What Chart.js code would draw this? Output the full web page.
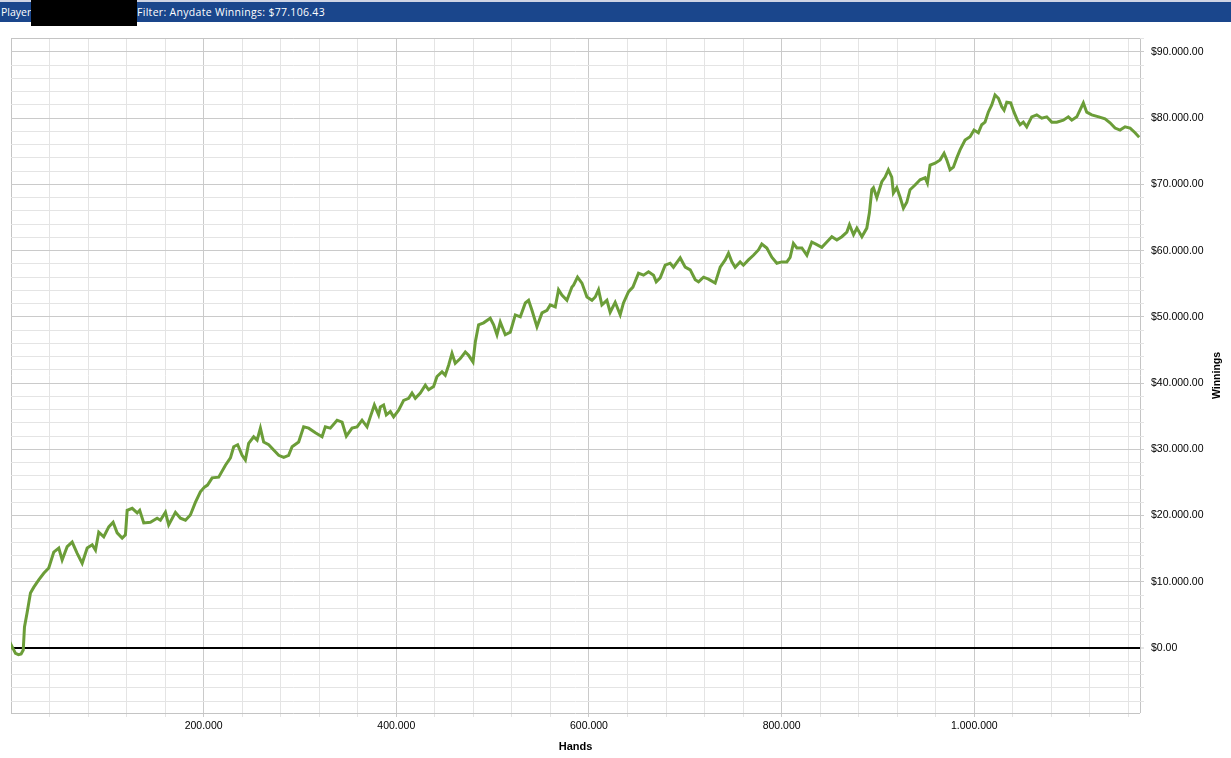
<!DOCTYPE html>
<html><head><meta charset="utf-8">
<script src="https://cdn.jsdelivr.net/npm/chart.js@4.4.1/dist/chart.umd.min.js"></script>
<style>
html,body{margin:0;padding:0;background:#fff;width:1231px;height:758px;overflow:hidden;}
#wrap{position:absolute;left:0;top:0;width:1231px;height:758px;}
#strip{position:absolute;left:0;top:0;width:1231px;height:2px;background:#cfd4e4;z-index:2;}
#bar{position:absolute;left:0;top:2px;width:1231px;height:20px;background:#1a468c;z-index:2;}
.ht{position:absolute;top:6px;line-height:12px;color:#fff;font-family:"Open Sans",sans-serif;font-size:10.5px;white-space:nowrap;z-index:3;}
#redact{position:absolute;left:31px;top:0;width:106px;height:26px;background:#000;z-index:4;}
</style></head>
<body>
<div id="strip"></div><div id="bar"></div>
<span class="ht" style="left:1px">Player</span>
<div id="redact"></div>
<span class="ht" style="left:137px;letter-spacing:0.3px">Filter: Anydate Winnings: $77.106.43</span>
<div id="wrap"><canvas id="c" width="1231" height="758"></canvas></div>
<script>
const hands = [0,1000,4700,7800,10500,12700,14000,16800,20200,23700,28800,34000,39200,44400,49600,53100,58300,63500,68700,73900,79100,84300,87700,91100,96300,101500,106000,110200,115400,118800,120600,125800,131000,133600,137800,144700,151700,155100,160300,163700,170700,175900,181100,186200,191400,196600,200800,204000,208800,215600,222600,227800,231200,235300,239900,243300,246700,251900,255500,258900,262300,267500,272700,277900,283100,288200,291800,298600,303800,309000,316000,322900,326300,331500,338500,343700,348100,354000,359200,364400,369600,373000,377200,381600,383400,386800,389600,393800,397200,402400,407600,412800,416300,419700,424900,430100,433500,438700,442200,447400,450800,454300,457800,461200,466400,471600,475000,479600,482000,485400,490600,497500,501000,504500,507900,513100,518300,523500,528700,533900,537300,540800,546000,551200,556400,559800,565000,568400,571900,577100,582300,584000,588100,592700,597900,603100,606500,609900,613400,618600,622000,627200,632400,635800,641100,645600,651400,656600,661800,667000,669800,673900,679100,684300,687700,694700,699900,705100,710300,713700,718900,724000,731000,736200,741400,744800,748300,751700,756900,760300,765500,770700,775900,779400,784600,789800,795000,800200,805400,808800,812200,815800,821000,826200,831300,836500,841700,846900,852100,857300,862500,867700,870400,874600,878100,883300,888400,891100,893600,895300,898800,904000,907400,910800,914300,916000,919500,922900,926400,929900,933300,938500,943700,948900,951300,954100,959300,964500,968600,971400,974800,978300,981800,985200,990400,995600,999700,1004200,1007700,1011100,1014500,1018100,1021500,1025000,1028500,1030900,1033700,1037800,1041200,1044700,1047500,1050900,1054400,1059600,1064800,1070000,1075200,1080400,1085600,1092400,1097600,1101200,1106400,1109700,1113200,1116700,1121900,1129200,1135700,1140900,1146100,1151300,1156500,1161700,1166900,1171200];
const winnings = [0,250,-800,-1000,-900,-300,3200,5400,8300,9200,10300,11300,12100,14500,15100,13300,15300,16000,14300,12800,15100,15600,14800,17500,16800,18300,19000,17400,16600,17100,20800,21100,20400,20800,18900,19000,19600,19300,20500,18600,20500,19600,19300,20100,22000,23600,24300,24600,25700,25800,27600,28700,30400,30700,29100,28400,30900,31900,31400,33200,31100,30700,29900,29100,28800,29100,30400,31100,33400,33200,32500,31900,33400,33200,34400,34100,32000,33200,33400,34400,33400,34900,36700,35200,36400,36700,35200,35700,34900,35900,37400,37700,38500,37700,38500,39700,39000,39500,41000,41700,41200,42700,44500,43000,43700,44700,44200,43200,46200,48800,49100,49800,48800,47300,49200,47300,47700,50300,50000,52100,52500,51000,48500,50600,51000,51800,51500,54100,53300,52500,54500,54800,56000,55100,53000,52500,53000,54100,51800,52500,50700,52200,50300,52100,53800,54500,56600,56300,56800,56300,55300,55900,57800,58100,57500,58900,57500,57100,55600,55300,56000,55700,55100,57500,58600,59600,58300,57500,58300,57800,58600,59300,60100,61000,60400,59000,58100,58300,58300,59000,61100,60400,60400,59300,61300,60900,60500,61300,62100,61600,62100,62800,63900,62400,63400,62100,63400,65700,69200,69500,68000,70400,71100,72200,71100,68700,69500,68100,66400,67300,69200,69900,70700,71000,70200,72900,73200,73700,74700,73700,72200,72600,74000,75200,76700,77200,78200,77800,79000,79400,80900,82000,83500,83000,81700,81200,82400,82300,80900,79700,79000,79400,78700,80200,80500,80000,80200,79400,79400,79700,80200,79700,80200,81200,82300,80900,80500,80200,79900,79300,78500,78200,78700,78500,77800,77106.43];

const xMin = 0, xMax = 1172000, xStep = 40000;
const yMin = -9800, yMax = 92100, yStep = 2000;
const xLabelValues = [200000, 400000, 600000, 800000, 1000000];
const xLabels = ['200.000', '400.000', '600.000', '800.000', '1.000.000'];
const yLabelValues = [0, 10000, 20000, 30000, 40000, 50000, 60000, 70000, 80000, 90000];
const yLabels = ['$0.00', '$10.000.00', '$20.000.00', '$30.000.00', '$40.000.00', '$50.000.00', '$60.000.00', '$70.000.00', '$80.000.00', '$90.000.00'];
const xTitle = 'Hands';
const yTitle = 'Winnings';

const MAJOR = '#cacaca', MINOR = '#e4e4e4', EDGE = '#c4c4c4';

const winTitle = {
  id: 'winTitle',
  afterDraw(chart) {
    const {ctx, chartArea} = chart;
    ctx.save();
    ctx.translate(chart.width - 13.5, (chartArea.top + chartArea.bottom) / 2);
    ctx.rotate(-Math.PI / 2);
    ctx.font = 'bold 10.5px "Liberation Sans"';
    ctx.fillStyle = '#000';
    ctx.textAlign = 'center';
    ctx.textBaseline = 'middle';
    ctx.fillText(yTitle, 0, 0);
    ctx.restore();
  }
};

new Chart(document.getElementById('c'), {
  type: 'line',
  data: {
    datasets: [{
      data: hands.map((h, i) => ({x: h, y: winnings[i]})),
      borderColor: '#6b9d38',
      borderWidth: 3,
      pointRadius: 0,
      tension: 0,
      fill: false
    }]
  },
  options: {
    responsive: false,
    animation: false,
    events: [],
    layout: {padding: {top: 38, left: 11, right: 0, bottom: 0}},
    plugins: {legend: {display: false}, tooltip: {enabled: false}},
    scales: {
      x: {
        type: 'linear', min: xMin, max: xMax,
        afterBuildTicks: ax => {
          const t = [];
          for (let v = xMin; v < xMax; v += xStep) t.push({value: v});
          t.push({value: xMax});
          ax.ticks = t;
        },
        afterFit: s => { s.height = 45; },
        ticks: {
          autoSkip: false, maxRotation: 0, padding: 3, color: '#000',
          font: {family: 'Liberation Sans', size: 10.5},
          callback: v => { const i = xLabelValues.indexOf(v); return i >= 0 ? xLabels[i] : ''; }
        },
        grid: {
          tickLength: 4,
          color: c => { const v = c.tick.value; return (v === xMin || v === xMax) ? EDGE : (v % 200000 === 0 ? MAJOR : MINOR); },
          tickColor: c => { const v = c.tick.value; return (v === xMin || v === xMax) ? 'rgba(0,0,0,0)' : (v % 200000 === 0 ? MAJOR : MINOR); }
        },
        border: {display: false},
        title: {display: true, text: xTitle, color: '#000', font: {family: 'Liberation Sans', size: 11, weight: 'bold'}, padding: {top: 0, bottom: 4}}
      },
      y: {
        type: 'linear', position: 'right', min: yMin, max: yMax,
        afterBuildTicks: ax => {
          const t = [{value: yMin}];
          for (let v = Math.ceil(yMin / yStep) * yStep; v < yMax; v += yStep) t.push({value: v});
          t.push({value: yMax});
          ax.ticks = t;
        },
        afterFit: s => { s.width = 91; },
        ticks: {
          autoSkip: false, padding: 7, color: '#000',
          font: {family: 'Liberation Sans', size: 10.5},
          callback: v => { const i = yLabelValues.indexOf(v); return i >= 0 ? yLabels[i] : ''; }
        },
        grid: {
          tickLength: 4,
          color: c => { const v = c.tick.value; if (v === 0) return '#000'; return (v === yMin || v === yMax) ? EDGE : (v % 10000 === 0 ? MAJOR : MINOR); },
          lineWidth: c => c.tick.value === 0 ? 2 : 1,
          tickColor: c => { const v = c.tick.value; return (v === yMin || v === yMax) ? 'rgba(0,0,0,0)' : (v % 10000 === 0 ? MAJOR : MINOR); },
          tickWidth: 1
        },
        border: {display: false}
      }
    }
  },
  plugins: [winTitle]
});
</script>
</body></html>
